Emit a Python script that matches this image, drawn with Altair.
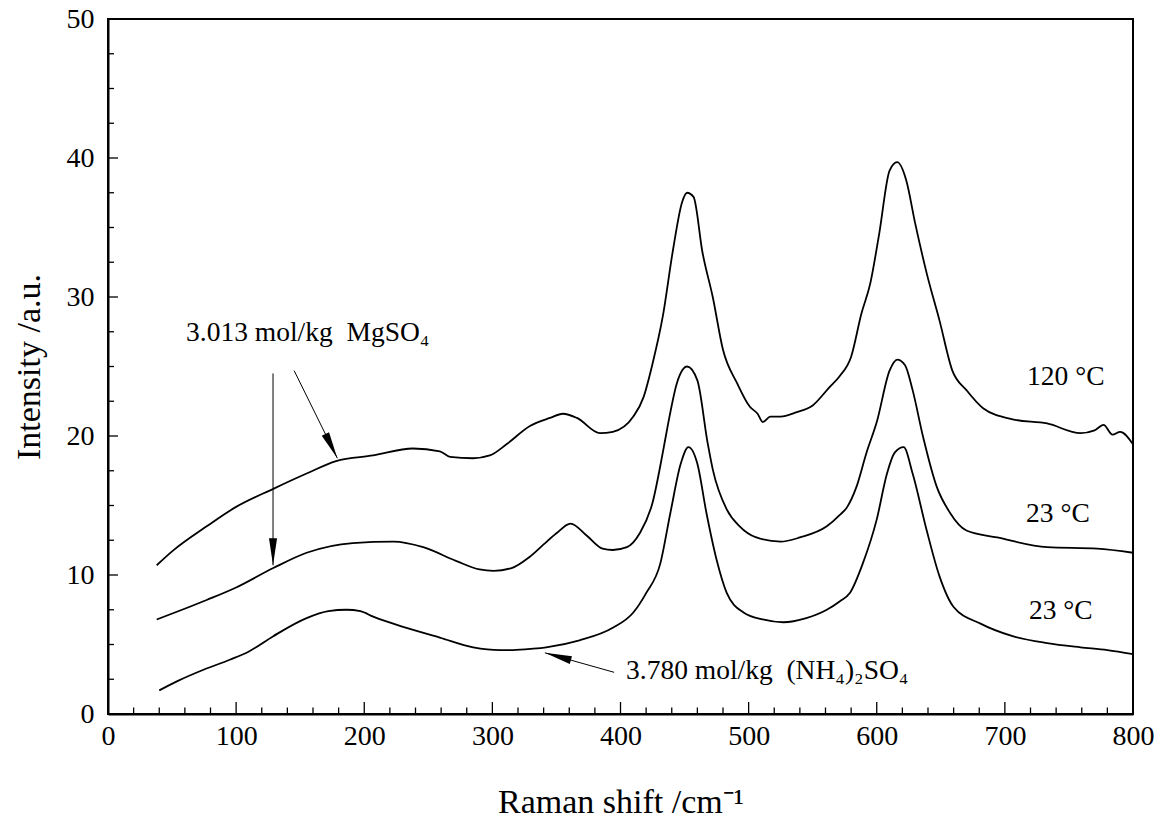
import math
import altair as alt
import pandas as pd

# Raman spectra: shift (cm^-1) and intensity (a.u.)
shift_mg_120 = [38, 50, 77, 100, 129, 155, 178, 207, 238, 259, 267, 285, 298, 311, 329, 345,
                355, 366, 384, 394, 410, 418, 425, 433, 441, 448, 452, 457, 464, 472, 480,
                491, 501, 507, 511, 517, 525, 537, 550, 563, 571, 580, 588, 595, 602, 610,
                616, 623, 630, 639, 649, 659, 670, 683, 706, 733, 759, 770, 777, 784, 790, 800]
int_mg_120 = [10.7, 11.7, 13.5, 14.9, 16.2, 17.3, 18.2, 18.6, 19.1, 18.9, 18.5, 18.4, 18.6, 19.4,
              20.7, 21.3, 21.6, 21.3, 20.2, 20.3, 21.4, 22.8, 25.2, 28.6, 33.4, 36.8, 37.5,
              37.2, 33.2, 30.0, 26.2, 23.8, 22.1, 21.6, 21.0, 21.4, 21.4, 21.7, 22.2, 23.5,
              24.3, 25.7, 28.8, 31.0, 34.6, 39.1, 39.7, 38.4, 35.3, 31.7, 28.3, 24.7, 23.3,
              22.0, 21.2, 20.9, 20.2, 20.4, 20.8, 20.1, 20.3, 19.4]

shift_mg_23 = [38, 77, 100, 129, 155, 191, 223, 246, 272, 290, 301, 315, 329, 340, 350, 361,
               374, 386, 394, 405, 415, 425, 433, 437, 444, 452, 460, 468, 472, 483, 493, 506,
               525, 540, 561, 571, 577, 584, 592, 600, 610, 616, 622, 628, 636, 647, 657, 670,
               694, 733, 772, 800]
int_mg_23 = [6.8, 8.2, 9.1, 10.5, 11.6, 12.3, 12.4, 12.0, 11.0, 10.4, 10.3, 10.5, 11.3, 12.2,
             13.0, 13.7, 12.8, 11.9, 11.8, 12.0, 13.0, 15.2, 18.8, 20.8, 23.8, 25.0, 24.0,
             19.5, 17.6, 14.7, 13.5, 12.7, 12.4, 12.7, 13.5, 14.3, 14.9, 16.3, 18.8, 21.0,
             24.7, 25.5, 25.1, 23.3, 20.0, 16.3, 14.5, 13.2, 12.7, 12.0, 11.9, 11.6]

shift_nh4_23 = [40, 55, 75, 95, 110, 129, 155, 172, 186, 197, 207, 233, 259, 285, 306, 316,
                332, 342, 368, 394, 410, 420, 431, 439, 447, 453, 460, 467, 475, 483, 496,
                511, 527, 545, 561, 571, 579, 589, 600, 608, 614, 621, 628, 639, 649, 660,
                681, 706, 733, 759, 780, 800]
int_nh4_23 = [1.7, 2.4, 3.2, 3.9, 4.5, 5.6, 6.9, 7.4, 7.5, 7.4, 7.0, 6.2, 5.5, 4.8, 4.6, 4.6,
              4.7, 4.8, 5.3, 6.2, 7.3, 8.7, 10.8, 14.5, 18.0, 19.2, 18.0, 14.5, 11.1, 8.7,
              7.3, 6.8, 6.6, 6.9, 7.5, 8.1, 8.7, 10.8, 14.0, 17.3, 18.8, 19.2, 17.3, 13.2,
              9.9, 7.7, 6.5, 5.6, 5.1, 4.8, 4.6, 4.3]

# Axis tick positions
x_labels = list(range(0, 801, 100))
x_minor = [v for v in range(0, 801, 20) if v % 100]
y_labels = list(range(0, 51, 10))
y_minor = [v / 2 for v in range(0, 101, 5) if v % 20]

# Annotation arrows (start -> tip, data units) and texts
arrow_start_x = [128.8, 145.3, 395.0]
arrow_start_y = [24.5, 24.7, 3.0]
arrow_tip_x = [128.8, 179.0, 341.0]
arrow_tip_y = [10.7, 18.4, 4.4]

note_text = ["3.013 mol/kg\u00a0 MgSO\u2084", "3.780 mol/kg\u00a0 (NH\u2084)\u2082SO\u2084",
             "120 \u00b0C", "23 \u00b0C", "23 \u00b0C"]
note_x = [60.9, 404.3, 717.3, 716.5, 718.8]
note_y = [26.8, 2.5, 23.7, 13.8, 6.8]

W, H = 1025, 695
X_DOM, Y_DOM = [0, 800], [0, 50]
FONT = "Liberation Serif"

xs = alt.Scale(domain=X_DOM, nice=False, zero=False)
ys = alt.Scale(domain=Y_DOM, nice=False, zero=False)

x_axis = alt.Axis(values=x_labels, ticks=False, labelPadding=8, labelFlush=False,
                  labelOverlap=False, titleY=98, titleBaseline="alphabetic")
y_axis = alt.Axis(values=y_labels, ticks=False, labelPadding=14, labelFlush=False,
                  labelOverlap=False, titleAngle=270, titleX=-79,
                  titleAlign="center", titleBaseline="middle")

# Every layer shares the same x/y encodings so the axes merge cleanly
X = alt.X("x:Q", scale=xs, axis=x_axis, title="Raman shift /cm\u207b\u00b9")
Y = alt.Y("y:Q", scale=ys, axis=y_axis, title="Intensity /a.u.")

spectra = pd.concat([
    pd.DataFrame({"x": shift_mg_120, "y": int_mg_120, "series": "MgSO4 120"}),
    pd.DataFrame({"x": shift_mg_23, "y": int_mg_23, "series": "MgSO4 23"}),
    pd.DataFrame({"x": shift_nh4_23, "y": int_nh4_23, "series": "(NH4)2SO4 23"}),
])

lines = alt.Chart(spectra).mark_line(
    color="black", strokeWidth=1.8, interpolate="monotone").encode(
    x=X, y=Y, detail="series:N")

# Inward tick marks
def x_ticks(vals, length):
    return alt.Chart(pd.DataFrame({"x": vals})).mark_rule(color="black", strokeWidth=1.3).encode(
        x=X, y=alt.value(H), y2=alt.value(H - length))

def y_ticks(vals, length):
    return alt.Chart(pd.DataFrame({"y": vals})).mark_rule(color="black", strokeWidth=1.3).encode(
        y=Y, x=alt.value(0), x2=alt.value(length))

# Arrows: shaft plus a filled head rotated along the shaft (screen space)
kx = W / (X_DOM[1] - X_DOM[0])
ky = H / (Y_DOM[1] - Y_DOM[0])
angles = []
shaft_rows = []
for i, (sx, sy, tx, ty) in enumerate(zip(arrow_start_x, arrow_start_y, arrow_tip_x, arrow_tip_y)):
    dx = (tx - sx) * kx
    dy = -(ty - sy) * ky
    angles.append(math.degrees(math.atan2(dx, -dy)) % 360)
    shaft_rows.append({"arrow": i, "k": 0, "x": sx, "y": sy})
    shaft_rows.append({"arrow": i, "k": 1, "x": tx, "y": ty})

shafts = alt.Chart(pd.DataFrame(shaft_rows)).mark_line(color="black", strokeWidth=1).encode(
    x=X, y=Y, detail="arrow:N", order="k:Q")

heads = alt.Chart(pd.DataFrame({"x": arrow_tip_x, "y": arrow_tip_y, "ang": angles})).mark_point(
    shape="M0,0 L0.3,2 L-0.3,2 Z", filled=True, size=729, color="black",
    opacity=1, strokeWidth=0).encode(
    x=X, y=Y, angle=alt.Angle("ang:Q", scale=None))

notes = alt.Chart(pd.DataFrame({"x": note_x, "y": note_y, "label": note_text})).mark_text(
    align="left", baseline="alphabetic", fontSize=27.5, font=FONT, color="black").encode(
    x=X, y=Y, text="label:N")

chart = alt.layer(
    lines,
    x_ticks(x_labels, 12), x_ticks(x_minor, 6.5),
    y_ticks(y_labels, 10), y_ticks(y_minor, 6),
    shafts, heads, notes,
).properties(
    width=W, height=H,
    autosize=alt.AutoSizeParams(type="none"),
    padding={"left": 108, "top": 19, "right": 33, "bottom": 111},
    background="white",
).configure_view(
    stroke="black", strokeWidth=2,
).configure_axis(
    domainColor="black", domainWidth=2, grid=False,
    labelFont=FONT, labelFontSize=28, labelColor="black",
    titleFont=FONT, titleFontSize=34, titleFontWeight="normal", titleColor="black",
)

chart.save("out.html", embed_options={"renderer": "svg", "actions": False})
